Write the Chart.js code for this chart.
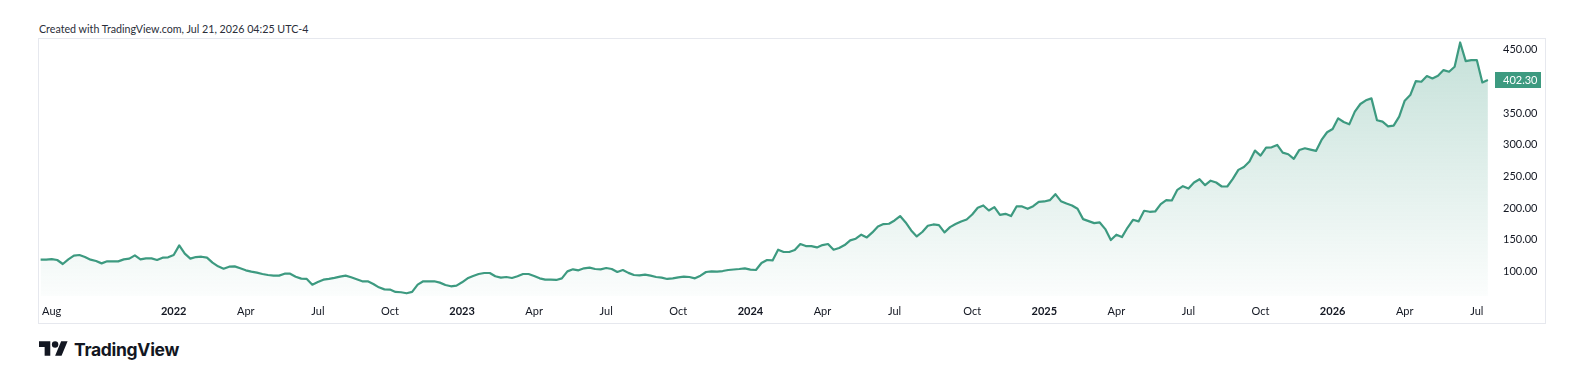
<!DOCTYPE html>
<html>
<head>
<meta charset="utf-8">
<title>TradingView snapshot</title>
<script src="https://cdn.jsdelivr.net/npm/chart.js@4.4.1/dist/chart.umd.min.js"></script>
<style>
  html, body { margin: 0; padding: 0; background: #ffffff; }
  body { width: 1592px; height: 382px; position: relative; overflow: hidden; font-family: Lato, "Noto Sans", sans-serif; color: #131722; }
  #caption { position: absolute; left: 39px; top: 22px; font-size: 10.7px; line-height: 14px; color: #2a2e39; white-space: nowrap; }
  #frame { position: absolute; left: 38px; top: 38px; width: 1506px; height: 284px; border: 1px solid #e6e8ee; }
  #frame canvas { display: block; }
  #logo { position: absolute; left: 39px; top: 338px; height: 22px; display: flex; align-items: center; }
  #logo svg { display: block; margin-right: 6px; }
  #logo span { font-family: Inter, sans-serif; font-weight: 700; font-size: 17.5px; letter-spacing: -0.3px; color: #131722; }
</style>
</head>
<body>

<div id="caption">Created with TradingView.com, Jul 21, 2026 04:25 UTC-4</div>
<div id="frame"><canvas id="priceChart" width="1506" height="284"></canvas></div>
<div id="logo">
  <svg width="29" height="16" viewBox="0 4 36 19"><path fill="#131722" d="M14 22H7V11H0V4h14v18zM28 22h-8l7.5-18h8L28 22z"/><circle fill="#131722" cx="20" cy="8" r="4"/></svg>
  <span>TradingView</span>
</div>

<script>
// ===================================
// Weekly close, Jul 19 2021 -> Jul 20 2026
// ===================================

const PRICES = [
  118.8, 118.8, 119.8, 118.3, 112.0, 119.3, 125.1, 126.2, 123.0, 118.8,
  116.7, 113.0, 116.2, 116.2, 116.2, 119.3, 120.4, 125.6, 119.3, 120.9,
  120.9, 118.3, 122.0, 122.5, 126.2, 141.4, 128.3, 120.4, 123.0, 123.5,
  122.0, 114.1, 108.3, 104.6, 107.8, 108.3, 105.2, 102.0, 99.9, 98.3,
  96.2, 94.6, 93.6, 93.6, 96.7, 96.7, 92.0, 88.9, 88.4, 79.4,
  83.6, 87.3, 88.4, 90.0, 92.0, 93.6, 91.0, 87.8, 84.7, 84.7,
  80.5, 75.2, 72.0, 71.6, 67.9, 67.4, 65.8, 67.9, 79.4, 84.7,
  84.7, 84.7, 82.6, 78.9, 76.8, 77.9, 83.1, 89.4, 93.1, 96.2,
  97.8, 97.8, 92.6, 90.4, 91.5, 89.9, 92.6, 96.2, 96.2, 93.1,
  89.4, 87.3, 87.3, 86.8, 89.4, 100.4, 103.6, 102.0, 105.2, 106.2,
  104.1, 103.6, 105.7, 104.1, 99.4, 102.5, 98.0, 94.6, 94.1, 95.2,
  93.6, 91.5, 90.5, 88.4, 89.4, 91.0, 92.0, 91.5, 89.4, 93.6,
  99.4, 100.4, 99.9, 100.9, 102.5, 103.3, 104.1, 105.2, 103.1, 102.5,
  113.6, 118.3, 117.7, 134.5, 130.9, 130.9, 134.0, 143.5, 140.3, 140.3,
  138.2, 141.9, 143.5, 134.5, 137.2, 141.9, 149.3, 151.9, 158.2, 154.0,
  161.9, 171.3, 175.0, 175.5, 180.7, 187.6, 177.6, 165.0, 155.5, 162.5,
  172.3, 174.4, 173.4, 161.8, 170.2, 175.0, 179.2, 182.3, 190.2, 200.7,
  204.4, 196.5, 201.7, 189.6, 191.2, 187.6, 202.8, 202.8, 199.1, 203.3,
  210.1, 210.7, 212.8, 222.2, 211.2, 207.5, 204.4, 199.1, 182.8, 179.7,
  176.5, 177.6, 167.1, 149.8, 158.2, 154.5, 169.2, 181.8, 179.2, 196.0,
  194.4, 194.9, 206.5, 212.8, 212.2, 229.0, 234.8, 231.1, 240.6, 245.8,
  236.4, 243.5, 240.6, 234.3, 234.3, 246.4, 260.5, 265.2, 273.7, 291.0,
  283.1, 295.7, 296.2, 299.9, 287.8, 285.2, 277.9, 292.0, 294.7, 292.6,
  290.5, 307.8, 319.9, 325.1, 341.9, 336.1, 332.4, 352.4, 364.5, 370.3,
  373.4, 338.8, 336.6, 329.3, 330.3, 344.5, 369.7, 378.6, 400.7, 399.6,
  408.6, 404.9, 409.1, 418.0, 415.4, 423.3, 461.6, 432.2, 433.8, 433.8,
  398.6, 402.3
];

// first weekly bar of each labelled period (index into PRICES)
const TICK_INDEX  = [2, 24, 37, 50, 63, 76, 89, 102, 115, 128, 141, 154, 168, 181, 194, 207, 220, 233, 246, 259];
const TICK_LABELS = ['Aug', '2022', 'Apr', 'Jul', 'Oct', '2023', 'Apr', 'Jul', 'Oct', '2024', 'Apr', 'Jul', 'Oct', '2025', 'Apr', 'Jul', 'Oct', '2026', 'Apr', 'Jul'];

const Y_TICKS = [100, 150, 200, 250, 300, 350, 450];
const LAST_PRICE = 402.30;

const LINE = '#3d9a80';
const TEXT = '#131722';
const FONT = 'Lato, "Noto Sans", sans-serif';

// --- last price badge on the price scale ---
const lastPriceBadge = {
  id: 'lastPriceBadge',
  afterDraw(chart) {
    const { ctx, scales: { y } } = chart;
    const py = Math.round(y.getPixelForValue(LAST_PRICE));
    ctx.save();
    ctx.fillStyle = LINE;
    ctx.fillRect(y.left + 3, py - 8, 46, 16);
    ctx.fillStyle = '#ffffff';
    ctx.font = '11px ' + FONT;
    ctx.textBaseline = 'middle';
    ctx.textAlign = 'left';
    ctx.fillText(LAST_PRICE.toFixed(2), y.left + 11, py + 0.5);
    ctx.restore();
  }
};

// --- Area chart ---
function drawChart() {
  const ctx = document.getElementById('priceChart').getContext('2d');
  new Chart(ctx, {
    type: 'line',
    data: {
      datasets: [{
        data: PRICES.map((v, i) => ({ x: i, y: v })),
        borderColor: LINE,
        borderWidth: 2.2,
        borderJoinStyle: 'round',
        tension: 0,
        pointRadius: 0,
        fill: 'start',
        backgroundColor: (c) => {
          const area = c.chart.chartArea;
          if (!area) return 'rgba(61,154,128,0.15)';
          const g = c.chart.ctx.createLinearGradient(0, area.top, 0, area.bottom);
          g.addColorStop(0, 'rgba(61,154,128,0.30)');
          g.addColorStop(1, 'rgba(61,154,128,0.02)');
          return g;
        }
      }]
    },
    options: {
      responsive: false,
      animation: false,
      layout: { padding: { top: 1, left: 0, right: 0, bottom: 0 } },
      plugins: { legend: { display: false }, tooltip: { enabled: false } },
      scales: {
        x: {
          type: 'linear',
          min: -0.29, max: 261.74,
          grid: { display: false, drawTicks: false },
          border: { display: false },
          afterBuildTicks: s => { s.ticks = TICK_INDEX.map(v => ({ value: v })); },
          afterFit: s => { s.height = 27; s.paddingLeft = 0; s.paddingRight = 0; },
          ticks: {
            autoSkip: false, maxRotation: 0, padding: 9, color: TEXT,
            font: c => ({ family: FONT, size: 11, weight: /^\d{4}$/.test(TICK_LABELS[c.index]) ? 'bold' : 'normal' }),
            callback: (v, i) => TICK_LABELS[i]
          }
        },
        y: {
          position: 'right',
          min: 61.5, max: 465.5,
          grid: { display: false, drawTicks: false },
          border: { display: false },
          afterBuildTicks: s => { s.ticks = Y_TICKS.map(v => ({ value: v })); },
          afterFit: s => { s.width = 53; s.paddingTop = 0; s.paddingBottom = 0; },
          ticks: {
            padding: 11, color: TEXT,
            font: { family: FONT, size: 11 },
            callback: v => v.toFixed(2)
          }
        }
      }
    },
    plugins: [lastPriceBadge]
  });
}

drawChart();
</script>
</body>
</html>
